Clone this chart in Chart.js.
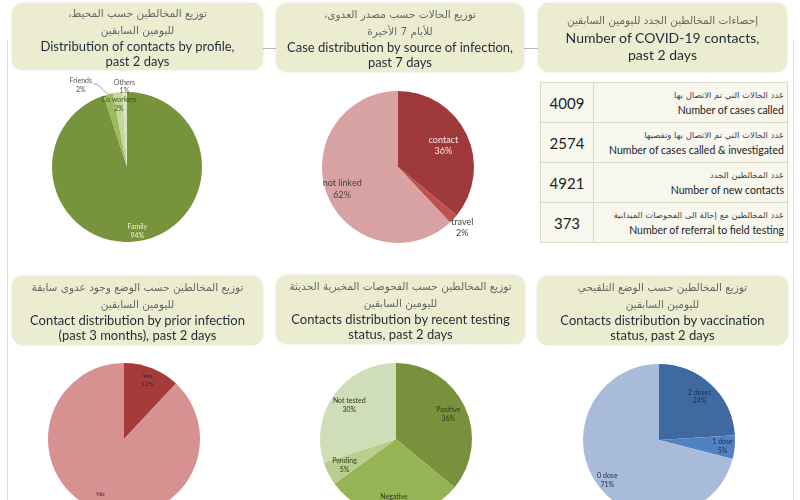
<!DOCTYPE html>
<html>
<head>
<meta charset="utf-8">
<script src="https://cdn.jsdelivr.net/npm/chart.js@4"></script>
<style>
    body { margin: 0; width: 800px; height: 500px; overflow: hidden; background: #fff; position: relative; font-family: Lato, sans-serif; }
    .rule { position: absolute; background: #e0e3c3; }
    .dash { position: absolute; left: 14px; width: 772px; top: 48px; height: 1px; background: #b8b8b8; }
    .box { position: absolute; background: #ecedd0; border-radius: 11px; display: flex; flex-direction: column; justify-content: center; align-items: center; text-align: center; z-index: 2; box-shadow: 0 0 2px rgba(120,125,80,0.25); }
    .ar { font-family: "DejaVu Sans", sans-serif; font-size: 10.5px; color: #666; line-height: 17px; direction: rtl; }
    .en { font-size: 13px; color: #1f2c39; line-height: 15px; }
    .big { font-size: 14px; line-height: 17px; }
    canvas { position: absolute; z-index: 1; }
    table { position: absolute; left: 540px; top: 82px; width: 248px; border-collapse: collapse; z-index: 2; }
    td { border: 1px solid #d8dbc4; background: #f7f7ee; height: 39px; padding: 0; }
    td.num { width: 52px; text-align: center; font-size: 15px; color: #222; }
    td.txt { text-align: right; padding-right: 3px; }
    td.txt .a { font-family: "DejaVu Sans", sans-serif; font-size: 8.5px; color: #444; direction: rtl; line-height: 15px; }
    td.txt .e { font-size: 10.5px; color: #222; line-height: 14px; }
</style>
</head>
<body>
<div class="rule" style="left:7px;top:40px;width:1px;height:460px"></div>
<div class="rule" style="left:793px;top:40px;width:1px;height:460px"></div>
<div class="dash"></div>

<div class="box" style="left:12px;top:3px;width:251px;height:67px">
    <div class="ar">توزيع المخالطين حسب المحيط،</div>
    <div class="ar">لليومين السابقين</div>
    <div class="en">Distribution of contacts by profile,</div>
    <div class="en">past 2 days</div>
</div>
<div class="box" style="left:276px;top:3px;width:248px;height:69px">
    <div class="ar">توزيع الحالات حسب مصدر العدوى،</div>
    <div class="ar">للأيام 7 الأخيرة</div>
    <div class="en">Case distribution by source of infection,</div>
    <div class="en">past 7 days</div>
</div>
<div class="box" style="left:538px;top:3px;width:249px;height:69px">
    <div class="ar">إحصاءات المخالطين الجدد لليومين السابقين</div>
    <div class="en big">Number of COVID-19 contacts,</div>
    <div class="en big">past 2 days</div>
</div>
<div class="box" style="left:12px;top:276px;width:251px;height:69px">
    <div class="ar">توزيع المخالطين حسب الوضع وجود عدوى سابقة</div>
    <div class="ar">لليومين السابقين</div>
    <div class="en">Contact distribution by prior infection</div>
    <div class="en">(past 3 months), past 2 days</div>
</div>
<div class="box" style="left:276px;top:275px;width:249px;height:69px">
    <div class="ar">توزيع المخالطين حسب الفحوصات المخبرية الحديثة</div>
    <div class="ar">لليومين السابقين</div>
    <div class="en">Contacts distribution by recent testing</div>
    <div class="en">status, past 2 days</div>
</div>
<div class="box" style="left:537px;top:276px;width:251px;height:69px">
    <div class="ar">توزيع المخالطين حسب الوضع التلقيحي</div>
    <div class="ar">لليومين السابقين</div>
    <div class="en">Contacts distribution by vaccination</div>
    <div class="en">status, past 2 days</div>
</div>

<table id="stats"></table>

<canvas id="profile"></canvas>
<canvas id="source"></canvas>
<canvas id="prior"></canvas>
<canvas id="testing"></canvas>
<canvas id="vaccine"></canvas>

<script>
// chart values (percent)
const profileLabels = ['Family', 'Friends', 'Co workers', 'Others'];
const profileValues = [94, 2, 2, 1];
const sourceLabels = ['contact', 'travel', 'not linked'];
const sourceValues = [36, 2, 62];
const priorLabels = ['Yes', 'No'];
const priorValues = [12, 88];
const testingLabels = ['Positive', 'Negative', 'Pending', 'Not tested'];
const testingValues = [36, 29, 5, 30];
const vaccineLabels = ['2 doses', '1 dose', '0 dose'];
const vaccineValues = [24, 5, 71];

// stats table
const statValues = [4009, 2574, 4921, 373];
const statLabelsAr = ['عدد  الحالات التي تم الاتصال بها', 'عدد  الحالات التي تم الاتصال بها وتقصيها', 'عدد المخالطين الجدد', 'عدد المخالطين مع إحالة الى الفحوصات الميدانية'];
const statLabelsEn = ['Number of cases called', 'Number of cases called & investigated', 'Number of new contacts', 'Number of referral to field testing'];

const table = document.getElementById('stats');
statValues.forEach((v, i) => {
    const tr = document.createElement('tr');
    tr.innerHTML = `<td class="num">${v}</td><td class="txt"><div class="a">${statLabelsAr[i]}</div><div class="e">${statLabelsEn[i]}</div></td>`;
    table.appendChild(tr);
});

// label plugin: text at arc mid-angle, radius given as fraction of outer radius
const sliceLabels = {
    id: 'sliceLabels',
    afterDatasetsDraw(chart, args, opts) {
        const ctx = chart.ctx;
        const meta = chart.getDatasetMeta(0);
        const data = chart.data.datasets[0].data;
        const lh = opts.size * 1.25;
        ctx.save();
        ctx.font = `${opts.size}px Lato, sans-serif`;
        ctx.textAlign = 'center';
        ctx.textBaseline = 'middle';
        meta.data.forEach((arc, i) => {
            const p = arc.getProps(['x', 'y', 'startAngle', 'endAngle', 'outerRadius'], true);
            const mid = (p.startAngle + p.endAngle) / 2;
            const a = mid + ((opts.shift && opts.shift[i]) || 0) * Math.PI / 180;
            const r = p.outerRadius * opts.radius[i];
            const x = p.x + Math.cos(a) * r, y = p.y + Math.sin(a) * r;
            ctx.fillStyle = opts.colors[i];
            ctx.fillText(chart.data.labels[i], x, y - lh / 2);
            ctx.fillText(data[i] + '%', x, y + lh / 2);
            if (opts.leader && opts.leader[i]) {
                const w = ctx.measureText(chart.data.labels[i]).width;
                ctx.strokeStyle = '#8a8a8a';
                ctx.lineWidth = 0.8;
                ctx.beginPath();
                ctx.moveTo(x + w / 2 + 1, y - lh / 2 + 3);
                ctx.lineTo(x + w / 2 + 5, y - lh / 2 + 3);
                ctx.lineTo(p.x + Math.cos(mid) * p.outerRadius, p.y + Math.sin(mid) * p.outerRadius);
                ctx.stroke();
            }
        });
        ctx.restore();
    }
};

function pie(id, cx, cy, r, labels, values, colors, labelOpts) {
    const W = 280, H = 220;
    const canvas = document.getElementById(id);
    canvas.width = W; canvas.height = H;
    canvas.style.left = (cx - W / 2) + 'px';
    canvas.style.top = (cy - H / 2) + 'px';
    return new Chart(canvas, {
        type: 'pie',
        data: { labels, datasets: [{ data: values, backgroundColor: colors, borderWidth: 0, hoverOffset: 0 }] },
        options: {
            responsive: false, animation: false, radius: r,
            events: [],
            plugins: { legend: { display: false }, tooltip: { enabled: false }, sliceLabels: labelOpts }
        },
        plugins: [sliceLabels]
    });
}

pie('profile', 127, 167, 75, profileLabels, profileValues,
    ['#77933c', '#9bbb59', '#c3d69b', '#d7e4bd'],
    { size: 7, radius: [0.87, 1.25, 0.84, 1.07], shift: [0, -15, 0, 0], leader: [false, true, false, false],
      colors: ['#eef2e2', '#555555', '#3e5119', '#555555'] });

pie('source', 398, 167, 76, sourceLabels, sourceValues,
    ['#a0393b', '#c0504d', '#d9a2a2'],
    { size: 9, radius: [0.66, 1.16, 0.79], colors: ['#f6eaea', '#444444', '#444444'] });

pie('prior', 124, 439, 76, priorLabels, priorValues,
    ['#a53b3b', '#d69190'],
    { size: 6.5, radius: [0.84, 0.84], colors: ['#3a2a2a', '#3a2a2a'] });

pie('testing', 396, 439, 76, testingLabels, testingValues,
    ['#78913c', '#97b455', '#b9cd8c', '#cfddb9'],
    { size: 7, radius: [0.76, 0.82, 0.76, 0.76], colors: ['#2f3a1a', '#2f3a1a', '#2f3a1a', '#2f3a1a'] });

pie('vaccine', 659, 440, 76, vaccineLabels, vaccineValues,
    ['#3e6aa1', '#5081c0', '#a9bbda'],
    { size: 7, radius: [0.78, 0.84, 0.86], colors: ['#1f2f4f', '#1f2f4f', '#1f2f4f'] });
</script>
</body>
</html>
